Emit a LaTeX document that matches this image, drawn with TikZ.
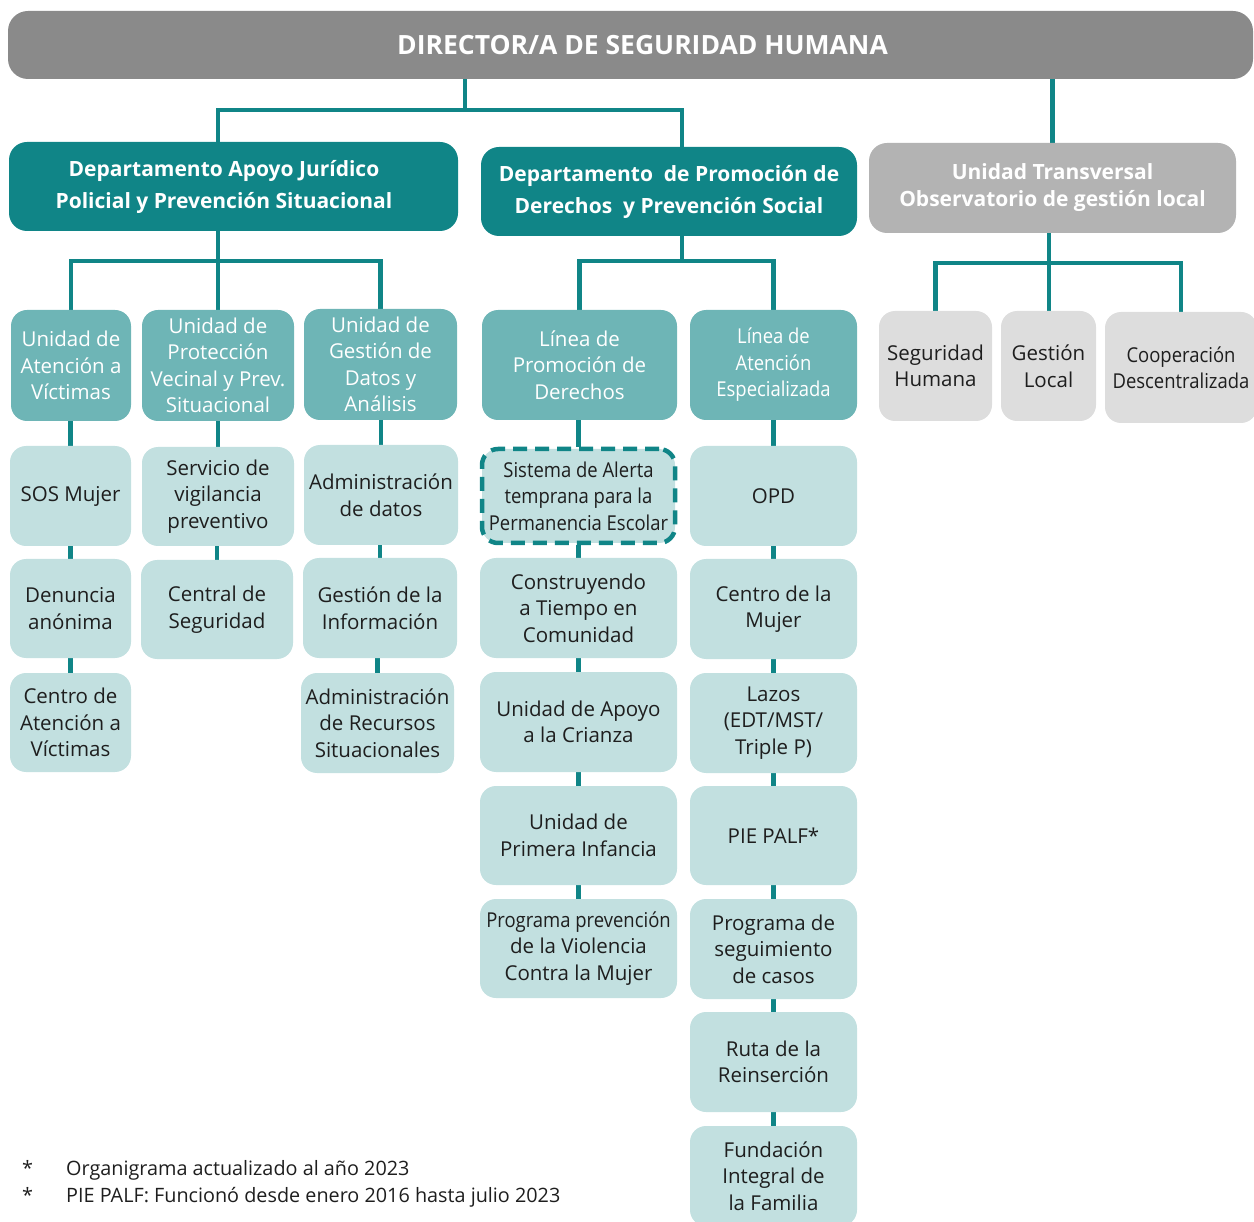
\documentclass[tikz,border=0pt]{standalone}
\usepackage{fontspec}
\setmainfont{Open Sans}
\newfontfamily\narrowfont[FakeStretch=0.9]{Open Sans}
\usepackage{xcolor}
\definecolor{headgray}{RGB}{138,138,138}
\definecolor{deptteal}{RGB}{16,133,135}
\definecolor{unitteal}{RGB}{110,181,182}
\definecolor{leafteal}{RGB}{194,224,224}
\definecolor{obsgray}{RGB}{179,179,179}
\definecolor{leafgray}{RGB}{221,221,221}
\definecolor{inkdark}{RGB}{30,30,30}
\usepackage{tikz}
\usetikzlibrary{backgrounds}

\begin{document}
\begin{tikzpicture}[x=1pt, y=-1pt,
  every node/.style={align=center, inner sep=0pt},
  sz/.style 2 args={minimum width=#1pt, minimum height=#2pt},
  head/.style={fill=headgray, text=white, rounded corners=20pt,
    font=\bfseries\fontsize{26.5}{30}\selectfont},
  dept/.style={fill=deptteal, text=white, rounded corners=18pt,
    font=\bfseries\fontsize{21}{32}\selectfont},
  obs/.style={dept, fill=obsgray, font=\bfseries\fontsize{21}{27}\selectfont},
  unit/.style={fill=unitteal, text=white, rounded corners=16pt,
    font=\fontsize{20.5}{26.5}\selectfont},
  narrow/.style={font=\narrowfont\fontsize{20.5}{26.5}\selectfont},
  leaf/.style={unit, fill=leafteal, text=inkdark},
  gleaf/.style={leaf, fill=leafgray},
  alert/.style={leaf, narrow, draw=deptteal, line width=4.5pt, dash pattern=on 14pt off 8pt},
  link/.style={draw=deptteal, line width=4.5pt},
  note/.style={anchor=base west, text=inkdark, font=\fontsize{19.8}{27}\selectfont}]
  \useasboundingbox (0,0) rectangle (1254,1222);
  \node[head, sz={1245}{68}] (dir) at (630.5,45) {\hspace*{24pt}DIRECTOR/A DE SEGURIDAD HUMANA};
  \node[dept, sz={449}{89}] (dep1) at (233.5,186.5) {Departamento Apoyo Jurídico\hspace*{19pt}\\Policial y Prevención Situacional\hspace*{19pt}};
  \node[dept, sz={376}{89}] (dep2) at (669,191.5) {Departamento\ \ de Promoción de\\Derechos\ \ y Prevención Social};
  \node[obs, sz={367}{90}] (obs) at (1052.5,188) {Unidad Transversal\\Observatorio de gestión local};
  % unidades y lineas
  \node[unit, sz={120}{111}] (u1) at (71,365.5) {Unidad de\\Atención a\\Víctimas};
  \node[unit, sz={152}{111}] (u2) at (218,365.5) {Unidad de\\Protección\\Vecinal y Prev.\\Situacional};
  \node[unit, sz={153}{111}] (u3) at (380.5,364.5) {Unidad de\\Gestión de\\Datos y\\Análisis};
  \node[unit, sz={195}{110}] (l1) at (579.5,365) {Línea de\\Promoción de\\Derechos};
  \node[unit, narrow, sz={167}{110}] (l2) at (773.5,365) {Línea de\\Atención\\Especializada};
  \node[gleaf, sz={113}{110}] (g1) at (935.5,366) {Seguridad\\Humana};
  \node[gleaf, sz={95}{110}] (g2) at (1048.5,366) {Gestión\\Local};
  \node[gleaf, narrow, sz={152}{111}] (g3) at (1181,367.5) {Cooperación\\Descentralizada};
  % programas
  \node[leaf, sz={121}{100}] (a1) at (70.5,496) {SOS Mujer};
  \node[leaf, sz={121}{99}] (a2) at (70.5,608.5) {Denuncia\\anónima};
  \node[leaf, sz={121}{99}] (a3) at (70.5,722.5) {Centro de\\Atención a\\Víctimas};
  \node[leaf, sz={152}{99}] (b1) at (218,496.5) {Servicio de\\vigilancia\\preventivo};
  \node[leaf, sz={152}{99}] (b2) at (217,609.5) {Central de\\Seguridad};
  \node[leaf, sz={154}{100}] (c1) at (381,495) {Administración\\de datos};
  \node[leaf, sz={154}{100}] (c2) at (380,608) {Gestión de la\\Información};
  \node[leaf, sz={153}{100}] (c3) at (377.5,723) {Administración\\de Recursos\\Situacionales};
  \node[alert, sz={193}{94}] (d1) at (578.5,496) {Sistema de Alerta\\temprana para la\\Permanencia Escolar};
  \node[leaf, sz={197}{100}] (d2) at (578.5,608) {Construyendo\\a Tiempo en\\Comunidad};
  \node[leaf, sz={197}{100}] (d3) at (578.5,722) {Unidad de Apoyo\\a la Crianza};
  \node[leaf, sz={197}{99}] (d4) at (578.5,835.5) {Unidad de\\Primera Infancia};
  \node[leaf, sz={197}{99}] (d5) at (578.5,948.5) {{\narrowfont Programa prevención}\\de la Violencia\\Contra la Mujer};
  \node[leaf, sz={167}{100}] (e1) at (773.5,496) {OPD};
  \node[leaf, sz={167}{100}] (e2) at (773.5,609) {Centro de la\\Mujer};
  \node[leaf, sz={167}{100}] (e3) at (773.5,723) {Lazos\\(EDT/MST/\\Triple P)};
  \node[leaf, sz={167}{99}] (e4) at (773.5,835.5) {PIE PALF*};
  \node[leaf, sz={167}{100}] (e5) at (773.5,949) {Programa de\\seguimiento\\de casos};
  \node[leaf, sz={167}{100}] (e6) at (773.5,1062) {Ruta de la\\Reinserción};
  \node[leaf, sz={167}{100}] (e7) at (773.5,1176) {Fundación\\Integral de\\la Familia};
  % notas
  \node[note] (s1) at (22,1175) {*};
  \node[note] (n1) at (66,1175) {Organigrama actualizado al año 2023};
  \node[note] (s2) at (22,1202) {*};
  \node[note] (n2) at (66,1202) {PIE PALF: Funcionó desde enero 2016 hasta julio 2023};
  \coordinate (j0) at (465,110);
  \coordinate (j1) at (218,261);
  \coordinate (j2) at (682,261);
  \coordinate (j3) at (1049,263);
  \begin{scope}[on background layer]
    \draw[link] (dir.south -| j0) -- (j0);
    \draw[link] (dep1.north -| u2) |- (j0) -| (dep2.north -| j2);
    \draw[link] (dir.south -| obs) -- (obs.north);
    \draw[link] (dep1.south -| j1) -- (j1);
    \draw[link] (u1.north) |- (j1) -| (u3.north);
    \draw[link] (j1) -- (u2.north);
    \draw[link] (dep2.south -| j2) -- (j2);
    \draw[link] (l1.north) |- (j2) -| (l2.north);
    \draw[link] (obs.south -| j3) -- (j3) -- (g2.north -| j3);
    \draw[link] (g1.north) |- (j3) -| (g3.north);
    \foreach \a/\b in {u1/a1,a1/a2,a2/a3,u2/b1,b1/b2,u3/c1,c1/c2,c2/c3,
      l1/d1,d1/d2,d2/d3,d3/d4,d4/d5,l2/e1,e1/e2,e2/e3,e3/e4,e4/e5,e5/e6,e6/e7}
      \draw[link] (\b.north |- \a.south) -- (\b.north);
  \end{scope}
\end{tikzpicture}
\end{document}
